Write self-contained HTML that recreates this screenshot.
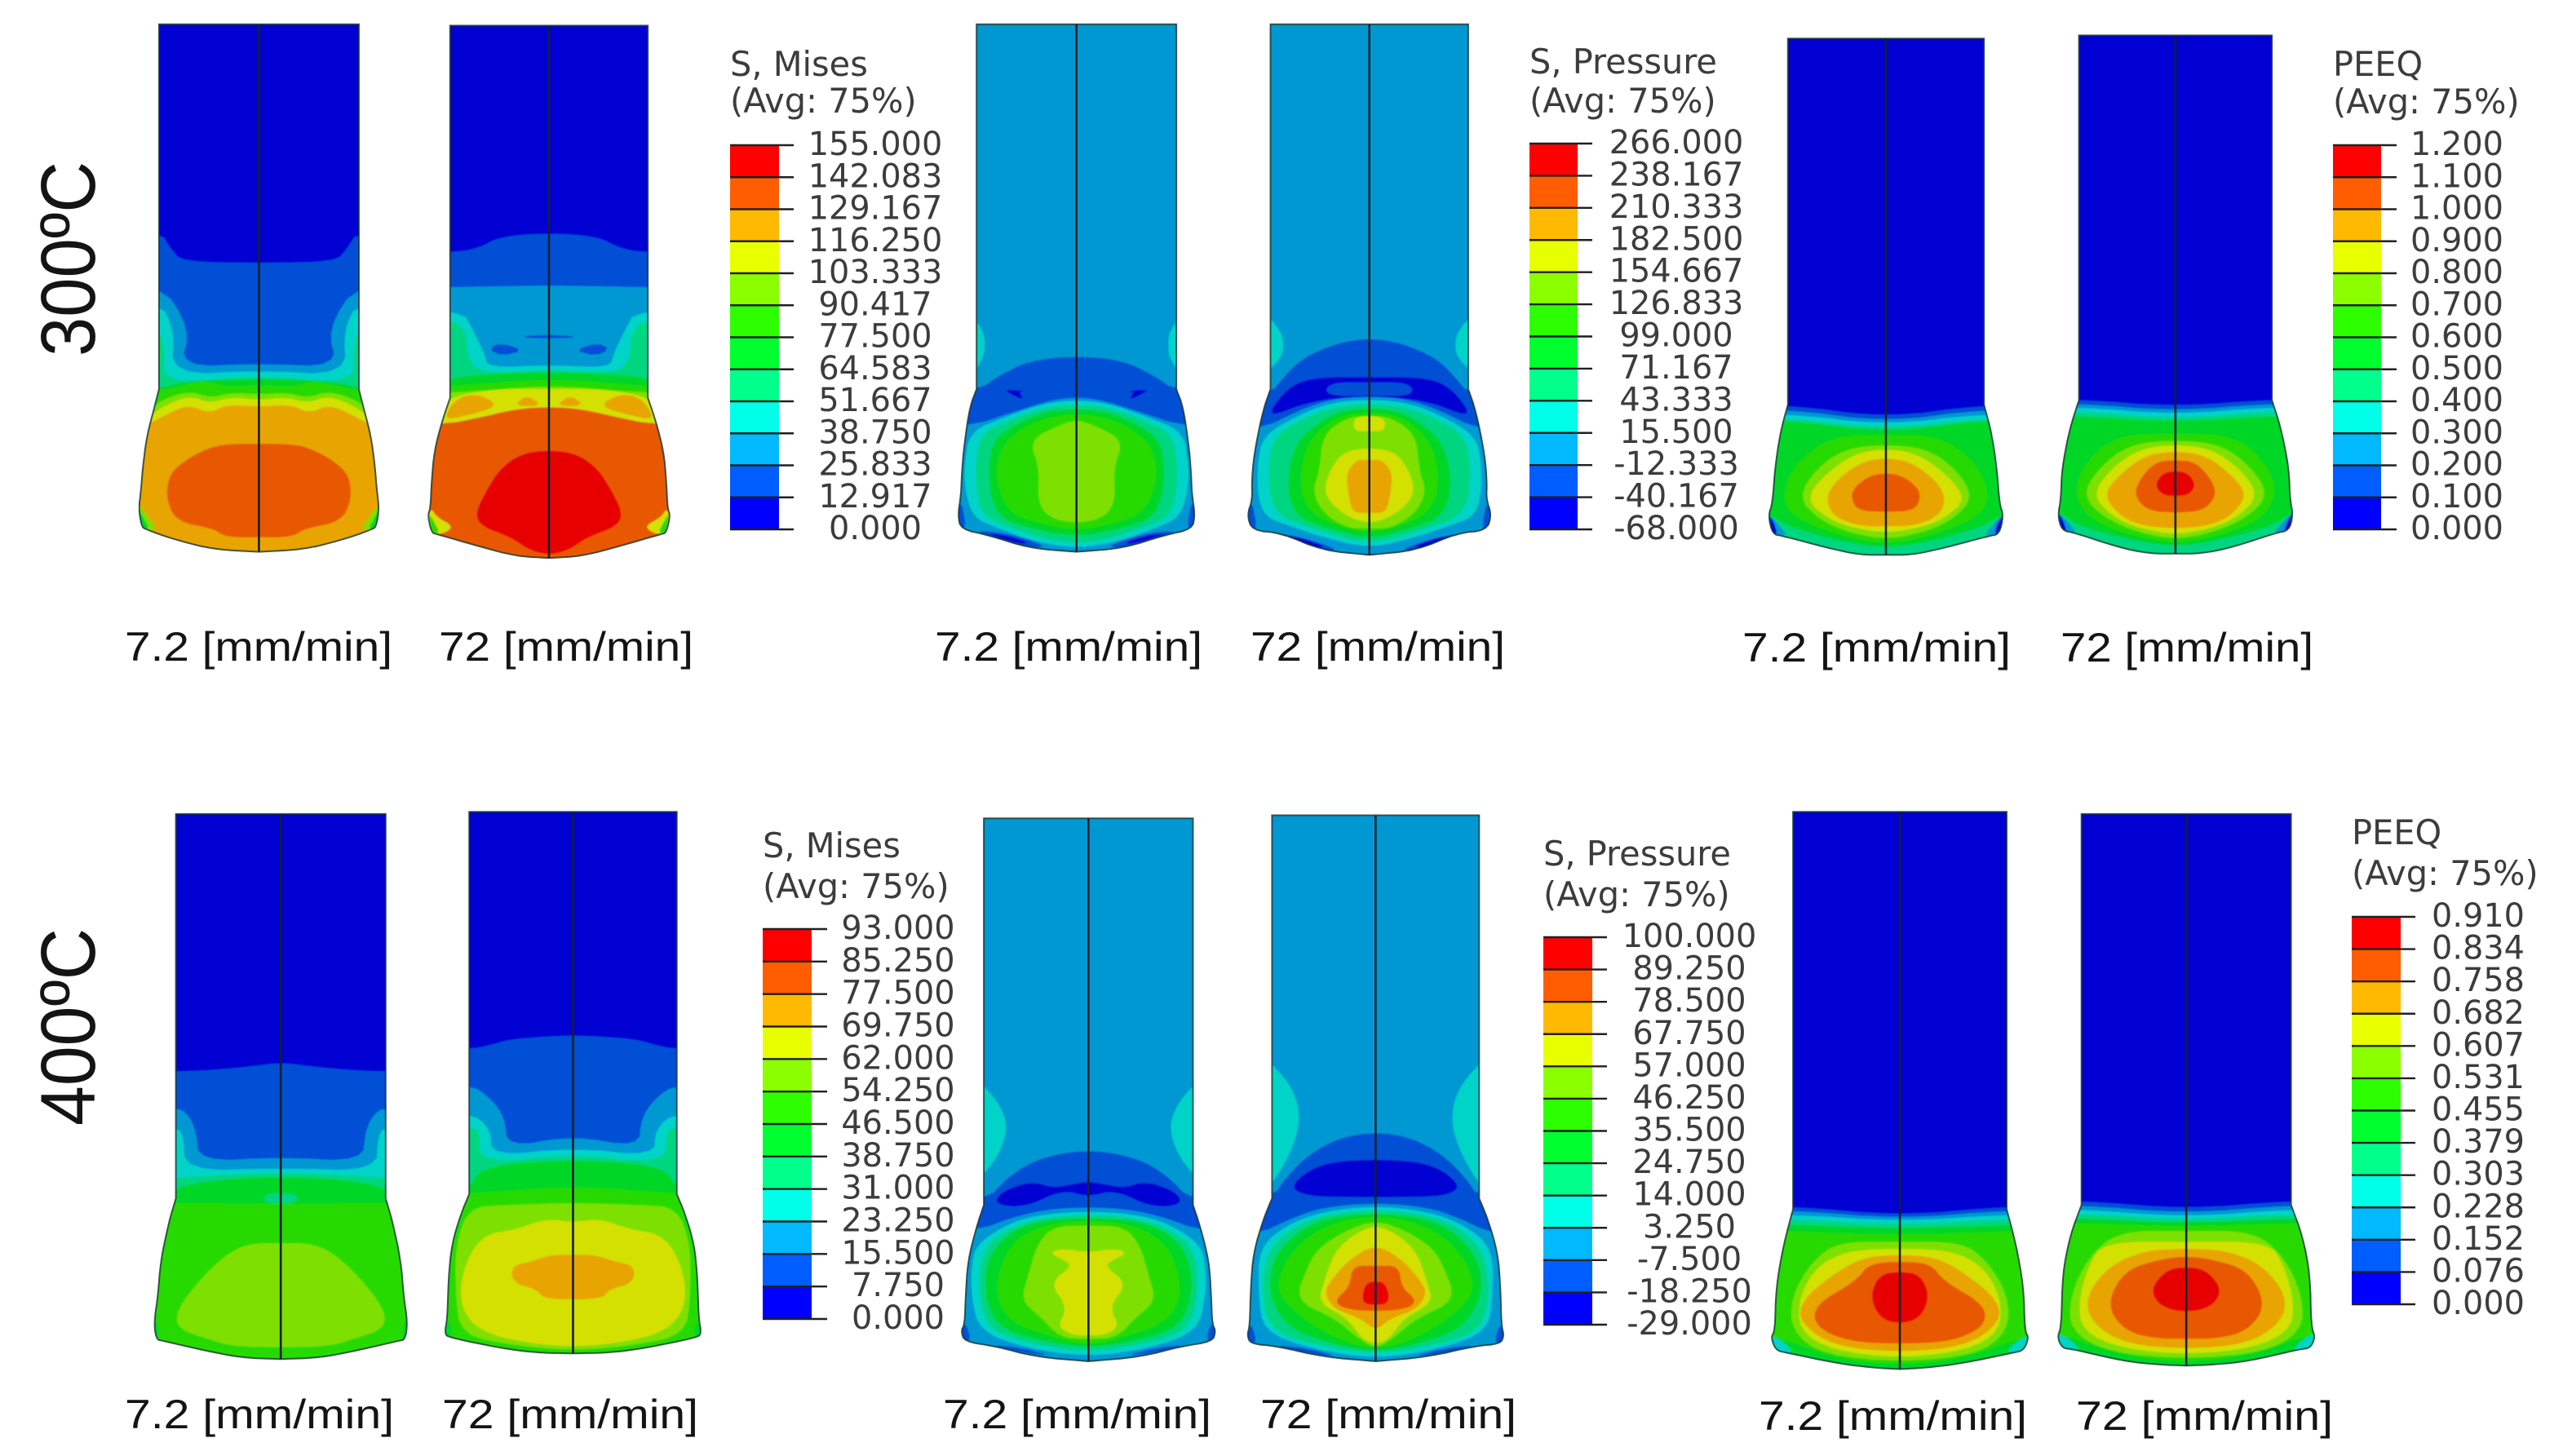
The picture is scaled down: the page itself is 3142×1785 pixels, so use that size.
<!DOCTYPE html>
<html lang="en">
<head>
<meta charset="utf-8">
<title>FE contour plots at 300 and 400 °C</title>
<style>
html,body{margin:0;padding:0;background:#fff;width:3142px;height:1785px;overflow:hidden}
svg{display:block;overflow:hidden}
.legend-text{font-family:"DejaVu Sans","Liberation Sans",sans-serif;fill:#3c3c3c}
.caption{font-family:"Liberation Sans",sans-serif;fill:#141414}
</style>
</head>
<body>
<svg id="figure" xmlns="http://www.w3.org/2000/svg" width="3142" height="1785" viewBox="0 0 3142 1785">
  <rect x="0" y="0" width="3142" height="1785" fill="#ffffff"/>
  <text class="caption" transform="translate(116,437) rotate(-90)" font-size="95" textLength="239" lengthAdjust="spacingAndGlyphs" fill="#000">300ºC</text>
  <text class="caption" transform="translate(116,1380) rotate(-90)" font-size="95" textLength="242" lengthAdjust="spacingAndGlyphs" fill="#000">400ºC</text>

  <text class="caption" x="153" y="810" font-size="50" textLength="328" lengthAdjust="spacingAndGlyphs">7.2 [mm/min]</text>
  <text class="caption" x="538" y="810" font-size="50" textLength="312" lengthAdjust="spacingAndGlyphs">72 [mm/min]</text>
  <text class="caption" x="1146" y="810" font-size="50" textLength="328" lengthAdjust="spacingAndGlyphs">7.2 [mm/min]</text>
  <text class="caption" x="1533" y="810" font-size="50" textLength="312" lengthAdjust="spacingAndGlyphs">72 [mm/min]</text>
  <text class="caption" x="2136" y="811" font-size="50" textLength="329" lengthAdjust="spacingAndGlyphs">7.2 [mm/min]</text>
  <text class="caption" x="2526" y="811" font-size="50" textLength="310" lengthAdjust="spacingAndGlyphs">72 [mm/min]</text>
  <text class="caption" x="153" y="1751" font-size="50" textLength="330" lengthAdjust="spacingAndGlyphs">7.2 [mm/min]</text>
  <text class="caption" x="542" y="1751" font-size="50" textLength="314" lengthAdjust="spacingAndGlyphs">72 [mm/min]</text>
  <text class="caption" x="1156" y="1751" font-size="50" textLength="329" lengthAdjust="spacingAndGlyphs">7.2 [mm/min]</text>
  <text class="caption" x="1545" y="1751" font-size="50" textLength="314" lengthAdjust="spacingAndGlyphs">72 [mm/min]</text>
  <text class="caption" x="2156" y="1753" font-size="50" textLength="329" lengthAdjust="spacingAndGlyphs">7.2 [mm/min]</text>
  <text class="caption" x="2545" y="1753" font-size="50" textLength="315" lengthAdjust="spacingAndGlyphs">72 [mm/min]</text>
</svg>
<script>
// ---------- legend values ----------
const misesTicks300 = ["155.000","142.083","129.167","116.250","103.333","90.417","77.500","64.583","51.667","38.750","25.833","12.917","0.000"];
const pressureTicks300 = ["266.000","238.167","210.333","182.500","154.667","126.833","99.000","71.167","43.333","15.500","-12.333","-40.167","-68.000"];
const peeqTicks300 = ["1.200","1.100","1.000","0.900","0.800","0.700","0.600","0.500","0.400","0.300","0.200","0.100","0.000"];
const misesTicks400 = ["93.000","85.250","77.500","69.750","62.000","54.250","46.500","38.750","31.000","23.250","15.500","7.750","0.000"];
const pressureTicks400 = ["100.000","89.250","78.500","67.750","57.000","46.250","35.500","24.750","14.000","3.250","-7.500","-18.250","-29.000"];
const peeqTicks400 = ["0.910","0.834","0.758","0.682","0.607","0.531","0.455","0.379","0.303","0.228","0.152","0.076","0.000"];

// Colour per contour level, lowest (0) to highest (11)
const legendLevelColors = ["#0000ff","#005dff","#00b9ff","#00ffe8","#00ff8b","#00ff2e","#2eff00","#8bff00","#e8ff00","#ffb900","#ff5d00","#ff0000"];
const fieldLevelColors = ["#0000d2","#0050d4","#0098d2","#00d4c8","#00d680","#00d628","#28da00","#7ee000","#d4e000","#e8a400","#e85800","#e60000"];

// ---------- contour geometry (half profiles mirrored about the specimen axis) ----------
// Each entry: [kind, level, half-profile]; b = everything below a curve, c = closed about axis, s = blob on both sides
const outlineMises300Slow = [[0,55],[183,55],[183,880],[190,915],[205,985],[212,1050],[216,1110],[220,1150],[215,1190],[208,1197],[150,1222],[80,1243],[0,1248]];
const contoursMises300Slow = [
 ["b",1,[[0,595],[140,592],[160,565],[183,520]]],
 ["b",2,[[0,822],[145,830],[125,745],[183,635]]],
 ["b",3,[[0,838],[160,848],[155,745],[183,680]]],
 ["b",4,[[0,848],[175,868],[172,790],[183,740]]],
 ["b",5,[[0,855],[150,865],[183,880]]],
 ["b",6,[[0,870],[60,875],[100,860],[140,872],[183,885]]],
 ["b",7,[[0,892],[50,888],[90,900],[125,885],[170,900],[200,925]]],
 ["b",8,[[0,905],[50,898],[90,912],[125,895],[170,915],[205,945]]],
 ["b",9,[[0,920],[60,915],[90,935],[130,915],[170,938],[212,965]]],
 ["c",10,[[0,1003],[70,1005],[105,1020],[140,1045],[165,1075],[170,1130],[150,1180],[85,1195],[60,1215],[0,1215]]],
 ["s",7,[[218,1140],[222,1170],[212,1198],[185,1198],[205,1165]]],
 ["s",5,[[220,1150],[215,1197],[200,1197],[212,1170]]]
];
const outlineMises300Fast = [[0,58],[181,58],[181,900],[195,950],[210,1020],[215,1090],[217,1150],[222,1165],[215,1205],[205,1208],[130,1235],[60,1258],[0,1262]];
const contoursMises300Fast = [
 ["b",1,[[0,527],[90,535],[130,562],[181,572]]],
 ["b",2,[[0,645],[181,650]]],
 ["s",1,[[111,790],[90,775],[46,792],[85,805]]],
 ["c",1,[[0,757],[45,760],[45,764],[0,765]]],
 ["b",3,[[0,825],[112,832],[118,800],[140,745],[160,700]]],
 ["b",4,[[0,835],[130,845],[150,800],[150,750],[181,720]]],
 ["b",5,[[0,840],[160,850],[181,860]]],
 ["b",6,[[0,855],[181,875]]],
 ["b",7,[[0,870],[181,890]]],
 ["b",8,[[0,880],[100,880],[170,895],[181,905]]],
 ["s",9,[[12,918],[40,893],[65,918]]],
 ["s",9,[[90,918],[130,890],[170,900],[195,950],[150,940]]],
 ["b",10,[[0,920],[60,925],[130,945],[190,960]]],
 ["c",11,[[0,1018],[50,1025],[90,1060],[115,1110],[135,1160],[125,1190],[70,1215],[35,1245],[0,1255]]],
 ["s",8,[[215,1150],[222,1165],[215,1210],[190,1205],[175,1190],[205,1170]]],
 ["s",6,[[220,1160],[215,1208],[200,1205],[210,1180]]]
];
const outlinePressure300Slow = [[0,55],[192,55],[192,880],[205,920],[215,1000],[220,1060],[222,1120],[228,1165],[222,1197],[170,1210],[90,1240],[0,1248]];
const contoursPressure300Slow = [
 ["s",3,[[215,715],[192,725],[178,755],[176,780],[178,805],[192,835],[215,845]]],
 ["b",1,[[0,805],[90,815],[150,850],[192,885]]],
 ["s",0,[[141,880],[125,892],[100,905],[112,885],[91,885]]],
 ["b",2,[[0,898],[50,905],[130,935],[206,965]]],
 ["c",3,[[0,905],[60,912],[130,940],[205,975],[215,1050],[215,1100],[200,1170],[150,1195],[80,1225],[0,1240]]],
 ["c",4,[[0,915],[60,920],[130,950],[190,985],[195,1100],[180,1170],[110,1200],[60,1220],[0,1228]]],
 ["c",5,[[0,925],[60,930],[120,960],[165,1000],[170,1100],[150,1170],[90,1195],[0,1215]]],
 ["c",6,[[0,935],[60,945],[115,975],[150,1020],[155,1090],[130,1160],[70,1185],[0,1200]]],
 ["c",7,[[0,950],[30,960],[91,995],[71,1060],[75,1130],[55,1170],[0,1185]]],
 ["s",1,[[195,1200],[140,1205],[80,1225],[60,1238],[100,1238],[170,1214]]],
 ["s",0,[[170,1206],[130,1212],[90,1228],[110,1230],[160,1212]]],
 ["s",1,[[222,1130],[230,1165],[222,1197],[212,1190]]]
];
const outlinePressure300Fast = [[0,55],[190,55],[190,880],[205,930],[222,1030],[226,1090],[225,1130],[235,1165],[225,1200],[170,1205],[90,1245],[0,1255]];
const contoursPressure300Fast = [
 ["s",3,[[215,710],[190,720],[168,755],[165,780],[168,805],[190,835],[215,845]]],
 ["b",1,[[0,765],[60,775],[130,810],[170,860],[190,890]]],
 ["c",0,[[0,853],[100,853],[150,870],[190,925],[185,940],[130,915],[70,900],[0,898]]],
 ["c",1,[[0,865],[78,865],[85,895],[0,895]]],
 ["b",2,[[0,896],[70,902],[130,925],[215,975]]],
 ["c",3,[[0,903],[70,910],[130,935],[205,985],[215,1050],[215,1120],[200,1170],[150,1190],[90,1215],[0,1240]]],
 ["c",4,[[0,912],[70,920],[125,945],[190,990],[195,1100],[180,1165],[100,1200],[0,1232]]],
 ["c",5,[[0,922],[60,930],[110,965],[145,1010],[160,1100],[140,1170],[80,1195],[0,1220]]],
 ["c",6,[[0,932],[55,940],[100,975],[125,1020],[135,1100],[115,1160],[60,1190],[0,1205]]],
 ["c",7,[[0,940],[45,945],[90,985],[95,1060],[110,1115],[85,1165],[40,1195],[0,1195]]],
 ["c",8,[[0,940],[30,945],[30,975],[0,975]]],
 ["c",8,[[0,1013],[45,1020],[70,1050],[91,1115],[50,1165],[0,1185]]],
 ["c",9,[[0,1040],[25,1040],[45,1070],[40,1120],[32,1160],[0,1160]]],
 ["s",1,[[195,1205],[140,1212],[85,1232],[60,1245],[100,1245],[170,1216]]],
 ["s",0,[[185,1206],[130,1216],[80,1238],[110,1238],[165,1216]]],
 ["s",1,[[226,1130],[236,1165],[226,1200],[216,1195]]]
];
const outlinePeeq300Slow = [[0,87],[190,87],[190,915],[205,980],[215,1060],[220,1140],[228,1165],[220,1208],[200,1212],[110,1240],[50,1255],[0,1255]];
const contoursPeeq300Slow = [
 ["b",1,[[0,945],[190,915]]],
 ["b",2,[[0,955],[190,925]]],
 ["b",3,[[0,962],[190,935]]],
 ["b",4,[[0,970],[190,945]]],
 ["b",5,[[0,978],[190,950]]],
 ["c",6,[[0,985],[100,985],[170,1040],[200,1110],[190,1160],[120,1200],[0,1235]]],
 ["c",7,[[0,1005],[80,1015],[135,1060],[170,1125],[130,1175],[70,1205],[0,1220]]],
 ["c",8,[[0,1015],[60,1025],[120,1075],[156,1130],[110,1175],[60,1195],[0,1205]]],
 ["c",9,[[0,1035],[50,1045],[100,1090],[117,1130],[100,1170],[50,1190],[0,1190]]],
 ["c",10,[[0,1070],[30,1075],[60,1100],[68,1125],[55,1155],[0,1158]]],
 ["b",4,[[0,1240],[100,1222],[190,1190],[230,1160]]],
 ["s",2,[[230,1160],[222,1208],[190,1212],[205,1190]]],
 ["s",0,[[228,1165],[220,1208],[210,1208],[218,1178]]]
];
const outlinePeeq300Fast = [[0,80],[187,80],[187,905],[205,970],[220,1060],[222,1130],[228,1165],[220,1200],[195,1205],[110,1238],[50,1252],[0,1252]];
const contoursPeeq300Fast = [
 ["b",1,[[0,920],[187,903]]],
 ["b",2,[[0,930],[187,912]]],
 ["b",3,[[0,938],[187,920]]],
 ["b",4,[[0,947],[187,930]]],
 ["b",5,[[0,955],[187,940]]],
 ["c",6,[[0,980],[120,985],[185,1060],[195,1130],[150,1190],[0,1235]]],
 ["c",7,[[0,995],[90,1005],[150,1060],[180,1120],[140,1170],[70,1205],[0,1220]]],
 ["c",8,[[0,1005],[70,1015],[125,1060],[162,1120],[120,1170],[70,1195],[0,1210]]],
 ["c",9,[[0,1020],[60,1030],[110,1075],[140,1120],[105,1170],[60,1190],[0,1195]]],
 ["c",10,[[0,1040],[40,1045],[70,1085],[80,1120],[55,1155],[0,1160]]],
 ["c",11,[[0,1065],[25,1070],[40,1097],[25,1120],[0,1122]]],
 ["b",4,[[0,1238],[100,1218],[190,1188],[230,1155]]],
 ["s",2,[[230,1155],[222,1204],[190,1206],[205,1185]]],
 ["s",0,[[228,1160],[220,1204],[210,1204],[218,1175]]]
];
const outlineMises400Slow = [[0,90],[192,90],[192,975],[205,1030],[220,1120],[225,1200],[232,1260],[228,1300],[215,1303],[140,1325],[70,1342],[0,1345]];
const contoursMises400Slow = [
 ["b",1,[[0,662],[60,672],[130,680],[192,683]]],
 ["b",2,[[0,880],[150,890],[155,820],[170,780],[192,765]]],
 ["b",3,[[0,905],[175,912],[178,830],[192,810]]],
 ["b",4,[[0,915],[180,925],[192,930]]],
 ["b",5,[[0,925],[100,930],[180,945],[192,960]]],
 ["c",4,[[0,962],[30,965],[30,985],[0,990]]],
 ["b",6,[[0,988],[192,985]]],
 ["c",7,[[0,1078],[50,1078],[90,1095],[140,1150],[190,1230],[190,1275],[130,1300],[90,1315],[0,1318]]],
 ["s",5,[[225,1255],[235,1260],[230,1303],[222,1300]]]
];
const outlineMises400Fast = [[0,85],[190,85],[190,965],[205,1010],[222,1080],[228,1160],[230,1250],[235,1285],[228,1295],[130,1320],[70,1330],[0,1332]];
const contoursMises400Fast = [
 ["b",1,[[0,600],[60,603],[120,610],[150,622],[190,632]]],
 ["b",2,[[0,830],[120,858],[125,790],[150,745],[190,710]]],
 ["b",3,[[0,858],[150,878],[150,815],[190,775]]],
 ["b",4,[[0,872],[170,895],[170,820],[190,810]]],
 ["b",5,[[0,885],[170,900],[190,960]]],
 ["b",6,[[0,945],[190,965]]],
 ["c",7,[[0,985],[120,990],[190,995],[215,1080],[215,1200],[205,1290],[100,1315],[0,1325]]],
 ["c",8,[[0,1030],[50,1022],[100,1045],[170,1060],[205,1150],[205,1230],[170,1280],[100,1305],[0,1318]]],
 ["c",9,[[0,1105],[40,1105],[75,1120],[113,1130],[110,1170],[65,1185],[55,1205],[0,1208]]],
 ["s",5,[[228,1255],[236,1285],[228,1296],[220,1280]]]
];
const outlinePressure400Slow = [[0,100],[201,100],[201,990],[215,1040],[232,1120],[236,1200],[238,1265],[245,1280],[238,1305],[180,1315],[100,1340],[0,1350]];
const contoursPressure400Slow = [
 ["s",3,[[230,690],[201,715],[170,760],[155,810],[170,870],[201,920],[230,940]]],
 ["b",1,[[0,862],[90,880],[150,920],[201,985]]],
 ["c",0,[[0,935],[40,945],[70,950],[110,935],[170,960],[180,990],[120,995],[50,955],[0,972]]],
 ["b",2,[[0,995],[80,1000],[150,1020],[215,1050]]],
 ["c",3,[[0,1005],[80,1010],[150,1030],[215,1080],[225,1130],[225,1200],[210,1280],[120,1320],[0,1340]]],
 ["c",4,[[0,1012],[80,1018],[150,1040],[205,1090],[212,1200],[190,1280],[110,1310],[0,1330]]],
 ["c",5,[[0,1020],[90,1025],[150,1050],[195,1110],[200,1200],[175,1270],[105,1300],[0,1320]]],
 ["c",6,[[0,1025],[70,1032],[130,1060],[165,1110],[180,1200],[150,1260],[80,1290],[0,1315]]],
 ["c",7,[[0,1037],[70,1040],[100,1085],[115,1150],[130,1210],[90,1250],[55,1295],[0,1300]]],
 ["c",8,[[0,1100],[50,1090],[75,1100],[50,1115],[30,1130],[75,1170],[40,1225],[60,1270],[30,1290],[0,1290]]],
 ["s",1,[[190,1312],[130,1318],[70,1338],[130,1330]]],
 ["s",1,[[236,1260],[246,1280],[238,1305],[226,1300]]]
];
const outlinePressure400Fast = [[0,93],[199,93],[199,975],[215,1020],[235,1100],[240,1180],[242,1270],[247,1290],[240,1310],[190,1315],[100,1340],[0,1350]];
const contoursPressure400Fast = [
 ["s",3,[[230,640],[199,665],[160,720],[145,780],[155,850],[199,945],[230,965]]],
 ["b",1,[[0,822],[70,835],[130,875],[175,930],[199,975]]],
 ["c",0,[[0,885],[80,890],[130,910],[165,950],[130,970],[50,972],[0,972]]],
 ["b",2,[[0,985],[100,995],[160,1020],[230,1060]]],
 ["c",3,[[0,992],[100,1005],[170,1035],[225,1090],[225,1200],[215,1280],[130,1320],[0,1345]]],
 ["c",4,[[0,1000],[100,1012],[165,1045],[210,1100],[220,1200],[200,1280],[120,1312],[0,1335]]],
 ["c",5,[[0,1008],[100,1020],[160,1060],[200,1120],[205,1200],[170,1270],[100,1305],[0,1330]]],
 ["c",6,[[0,1015],[80,1030],[140,1070],[180,1130],[190,1200],[120,1270],[50,1310],[0,1320]]],
 ["c",7,[[0,1025],[60,1050],[110,1090],[130,1130],[155,1210],[80,1250],[30,1300],[0,1320]]],
 ["c",8,[[0,1035],[45,1060],[80,1100],[100,1170],[110,1215],[55,1250],[25,1300],[0,1310]]],
 ["c",9,[[0,1080],[50,1115],[80,1155],[100,1190],[80,1230],[30,1250],[0,1280]]],
 ["c",10,[[0,1130],[45,1130],[50,1180],[80,1210],[60,1230],[0,1235]]],
 ["c",11,[[0,1165],[20,1170],[28,1215],[0,1222]]],
 ["s",1,[[200,1312],[130,1320],[70,1340],[130,1332]]],
 ["s",1,[[240,1260],[248,1290],[240,1310],[228,1305]]]
];
const outlinePeeq400Slow = [[0,85],[207,85],[207,1000],[225,1080],[240,1180],[242,1280],[250,1295],[240,1325],[220,1330],[120,1355],[50,1365],[0,1368]];
const contoursPeeq400Slow = [
 ["b",1,[[0,1015],[207,993]]],
 ["b",2,[[0,1022],[207,1002]]],
 ["b",3,[[0,1028],[207,1012]]],
 ["b",4,[[0,1036],[207,1022]]],
 ["b",5,[[0,1045],[207,1035]]],
 ["b",6,[[0,1060],[207,1050]]],
 ["c",7,[[0,1075],[120,1075],[170,1120],[210,1200],[210,1280],[150,1335],[0,1352]]],
 ["c",8,[[0,1090],[100,1095],[160,1130],[195,1200],[195,1280],[130,1325],[0,1343]]],
 ["c",9,[[0,1105],[70,1110],[130,1150],[190,1210],[195,1260],[130,1315],[0,1330]]],
 ["c",10,[[0,1120],[60,1125],[85,1165],[165,1220],[165,1270],[100,1305],[0,1310]]],
 ["c",11,[[0,1143],[40,1150],[58,1200],[40,1250],[0,1265]]],
 ["b",5,[[0,1360],[130,1342],[245,1290]]],
 ["s",3,[[250,1290],[242,1326],[205,1332],[225,1305]]]
];
const outlinePeeq400Fast = [[0,90],[203,90],[203,990],[225,1060],[240,1150],[242,1270],[250,1295],[240,1320],[220,1322],[120,1350],[50,1358],[0,1360]];
const contoursPeeq400Fast = [
 ["b",1,[[0,1000],[203,980]]],
 ["b",2,[[0,1010],[203,990]]],
 ["b",3,[[0,1018],[203,1000]]],
 ["b",4,[[0,1025],[203,1010]]],
 ["b",5,[[0,1032],[203,1020]]],
 ["b",6,[[0,1040],[203,1032]]],
 ["c",7,[[0,1050],[130,1050],[190,1110],[225,1200],[225,1280],[150,1330],[0,1345]]],
 ["c",8,[[0,1075],[160,1075],[190,1130],[210,1220],[200,1280],[130,1320],[0,1335]]],
 ["c",9,[[0,1090],[80,1095],[150,1130],[195,1200],[185,1260],[120,1310],[0,1322]]],
 ["c",10,[[0,1108],[50,1115],[120,1140],[155,1220],[120,1280],[60,1298],[0,1298]]],
 ["c",11,[[0,1132],[40,1140],[70,1185],[50,1225],[0,1238]]],
 ["b",5,[[0,1353],[130,1335],[245,1285]]],
 ["s",3,[[250,1285],[242,1320],[205,1326],[225,1300]]]
];

// ---------- drawing ----------
const svg = document.getElementById('figure');
const NS = 'http://www.w3.org/2000/svg';
const defs = document.createElementNS(NS, 'defs');


svg.appendChild(defs);
const soft = document.createElementNS(NS, 'filter');
soft.setAttribute('id', 'soft');
const softBlur = document.createElementNS(NS, 'feGaussianBlur');
softBlur.setAttribute('stdDeviation', '0.8');
soft.appendChild(softBlur);
defs.appendChild(soft);

// Sampling frames map traced units to page pixels
function frame(x0, y0, w, h) { return { x0: x0, y0: y0, sx: 1568 / w, sy: 1568 / h }; }
function yPage(f, v) { return f.y0 + v / f.sy; }
function xPage(f, cx, d) { return f.x0 + (cx + d) / f.sx; }

// Mirror a half profile; axis points are not duplicated so the curve stays smooth across the axis
function mirrored(pts) {
  const left = pts.slice().reverse().filter(function (p) { return p[0] !== 0; }).map(function (p) { return [-p[0], p[1]]; });
  return pts.concat(left);
}
// Corner cutting of a closed ring
function rounded(ring, passes) {
  let out = ring;
  for (let k = 0; k < passes; k++) {
    const next = [];
    for (let i = 0; i < out.length; i++) {
      const a = out[i], b = out[(i + 1) % out.length];
      next.push([a[0] * 0.75 + b[0] * 0.25, a[1] * 0.75 + b[1] * 0.25]);
      next.push([a[0] * 0.25 + b[0] * 0.75, a[1] * 0.25 + b[1] * 0.75]);
    }
    out = next;
  }
  return out;
}
// Corner cutting of an open run with fixed ends
function roundedRun(run, passes) {
  let out = run;
  for (let k = 0; k < passes; k++) {
    const next = [out[0]];
    for (let i = 0; i < out.length - 1; i++) {
      const a = out[i], b = out[i + 1];
      next.push([a[0] * 0.75 + b[0] * 0.25, a[1] * 0.75 + b[1] * 0.25]);
      next.push([a[0] * 0.25 + b[0] * 0.75, a[1] * 0.25 + b[1] * 0.75]);
    }
    next.push(out[out.length - 1]);
    out = next;
  }
  return out;
}
function silhouette(outline) {
  const lower = roundedRun(outline.slice(2), 2);
  return mirrored(outline.slice(0, 2).concat(lower));
}
function toPoints(f, cx, pts) {
  return pts.map(function (p) { return xPage(f, cx, p[0]).toFixed(1) + ',' + yPage(f, p[1]).toFixed(1); }).join(' ');
}
function regionPolygons(kind, pts) {
  if (kind === 'b') {
    const lastY = pts[pts.length - 1][1];
    return [rounded(mirrored(pts.concat([[400, lastY], [400, 1450], [0, 1450]])), 2)];
  }
  if (kind === 'c') return [rounded(mirrored(pts), 2)];
  const passes = pts.length > 4 ? 2 : 1;
  return [rounded(pts, passes), rounded(pts.map(function (p) { return [-p[0], p[1]]; }), passes)];
}

let clipIndex = 0;
function drawSpecimen(name, f, cx, baseLevel, outline, contours) {
  clipIndex += 1;
  const clipId = 'specimen-clip-' + clipIndex;
  const shapePts = toPoints(f, cx, silhouette(outline));
  const clip = document.createElementNS(NS, 'clipPath');
  clip.setAttribute('id', clipId);
  const clipShape = document.createElementNS(NS, 'polygon');
  clipShape.setAttribute('points', shapePts);
  clip.appendChild(clipShape);
  defs.appendChild(clip);

  const group = document.createElementNS(NS, 'g');
  
  
  svg.appendChild(group);

  const clipped = document.createElementNS(NS, 'g');
  clipped.setAttribute('clip-path', 'url(#' + clipId + ')');
  
  
  group.appendChild(clipped);

  const inner = document.createElementNS(NS, 'g');
  inner.setAttribute('filter', 'url(#soft)');
  
  
  clipped.appendChild(inner);

  const base = document.createElementNS(NS, 'polygon');
  base.setAttribute('points', toPoints(f, cx, mirrored([[0, outline[0][1] - 10], [300, outline[0][1] - 10], [300, 1450], [0, 1450]])));
  base.setAttribute('fill', fieldLevelColors[baseLevel]);
  
  
  inner.appendChild(base);

  contours.forEach(function (entry) {
    regionPolygons(entry[0], entry[2]).forEach(function (poly) {
      const shape = document.createElementNS(NS, 'polygon');
      shape.setAttribute('points', toPoints(f, cx, poly));
      shape.setAttribute('fill', fieldLevelColors[entry[1]]);
      
      
      inner.appendChild(shape);
    });
  });

  const edge = document.createElementNS(NS, 'polygon');
  edge.setAttribute('points', shapePts);
  edge.setAttribute('fill', 'none');
  edge.setAttribute('stroke', '#15352f');
  edge.setAttribute('stroke-opacity', '0.8');
  edge.setAttribute('stroke-width', '2');
  
  
  group.appendChild(edge);

  const axis = document.createElementNS(NS, 'line');
  const px = xPage(f, cx, 0);
  axis.setAttribute('x1', px);
  axis.setAttribute('x2', px);
  axis.setAttribute('y1', yPage(f, outline[0][1]));
  axis.setAttribute('y2', yPage(f, outline[outline.length - 1][1]));
  axis.setAttribute('stroke', '#14202e');
  axis.setAttribute('stroke-width', '2.6');
  
  
  group.appendChild(axis);
}

function drawLegend(name, title, ticks, barLeft, barRight, tickEnd, top, bottom, labelCenter, title1Y, title2Y) {
  const group = document.createElementNS(NS, 'g');
  
  
  svg.appendChild(group);
  const n = ticks.length;
  function tickY(i) { return top + i * (bottom - top) / (n - 1); }

  [[title, title1Y], ['(Avg: 75%)', title2Y]].forEach(function (t) {
    const text = document.createElementNS(NS, 'text');
    text.setAttribute('class', 'legend-text');
    text.setAttribute('x', barLeft);
    text.setAttribute('y', t[1]);
    text.setAttribute('font-size', '41.5');
    text.textContent = t[0];
    
    
    group.appendChild(text);
  });

  for (let i = 0; i < n - 1; i++) {
    const band = document.createElementNS(NS, 'rect');
    band.setAttribute('x', barLeft);
    band.setAttribute('y', tickY(i));
    band.setAttribute('width', barRight - barLeft);
    band.setAttribute('height', tickY(i + 1) - tickY(i));
    band.setAttribute('fill', legendLevelColors[n - 2 - i]);
    
    
    group.appendChild(band);
  }
  for (let i = 0; i < n; i++) {
    const tick = document.createElementNS(NS, 'line');
    tick.setAttribute('x1', barLeft);
    tick.setAttribute('x2', tickEnd);
    tick.setAttribute('y1', tickY(i));
    tick.setAttribute('y2', tickY(i));
    tick.setAttribute('stroke', '#202020');
    tick.setAttribute('stroke-width', '2.4');
    
    
    group.appendChild(tick);

    const label = document.createElementNS(NS, 'text');
    label.setAttribute('class', 'legend-text');
    label.setAttribute('x', labelCenter);
    label.setAttribute('y', tickY(i) + 12);
    label.setAttribute('font-size', '39.8');
    label.setAttribute('text-anchor', 'middle');
    label.textContent = ticks[i];
    
    
    group.appendChild(label);
  }
}

const f1 = frame(150, 0, 1050, 850);
const f2 = frame(1150, 0, 1000, 850);
const f3 = frame(2150, 0, 992, 850);
const f4 = frame(150, 950, 1050, 835);
const f5 = frame(1150, 950, 1000, 835);
const f6 = frame(2150, 950, 992, 835);

drawSpecimen('specimen-mises-300c-7-2', f1, 250, 0, outlineMises300Slow, contoursMises300Slow);
drawSpecimen('specimen-mises-300c-72', f1, 781, 0, outlineMises300Fast, contoursMises300Fast);
drawSpecimen('specimen-pressure-300c-7-2', f2, 266, 2, outlinePressure300Slow, contoursPressure300Slow);
drawSpecimen('specimen-pressure-300c-72', f2, 829, 2, outlinePressure300Fast, contoursPressure300Fast);
drawSpecimen('specimen-peeq-300c-7-2', f3, 256, 0, outlinePeeq300Slow, contoursPeeq300Slow);
drawSpecimen('specimen-peeq-300c-72', f3, 817, 0, outlinePeeq300Fast, contoursPeeq300Fast);
drawSpecimen('specimen-mises-400c-7-2', f4, 290, 0, outlineMises400Slow, contoursMises400Slow);
drawSpecimen('specimen-mises-400c-72', f4, 825, 0, outlineMises400Fast, contoursMises400Fast);
drawSpecimen('specimen-pressure-400c-7-2', f5, 289, 2, outlinePressure400Slow, contoursPressure400Slow);
drawSpecimen('specimen-pressure-400c-72', f5, 841, 2, outlinePressure400Fast, contoursPressure400Fast);
drawSpecimen('specimen-peeq-400c-7-2', f6, 283, 0, outlinePeeq400Slow, contoursPeeq400Slow);
drawSpecimen('specimen-peeq-400c-72', f6, 838, 0, outlinePeeq400Fast, contoursPeeq400Fast);

drawLegend('legend-mises-300c', 'S, Mises', misesTicks300, 895, 955, 973, 178, 649, 1073, 93, 138);
drawLegend('legend-pressure-300c', 'S, Pressure', pressureTicks300, 1875, 1934, 1952, 176, 649, 2055, 90, 138);
drawLegend('legend-peeq-300c', 'PEEQ', peeqTicks300, 2860, 2919, 2938, 178, 649, 3012, 93, 139);
drawLegend('legend-mises-400c', 'S, Mises', misesTicks400, 935, 995, 1014, 1139, 1617, 1101, 1051, 1101);
drawLegend('legend-pressure-400c', 'S, Pressure', pressureTicks400, 1892, 1952, 1970, 1149, 1624, 2071, 1061, 1111);
drawLegend('legend-peeq-400c', 'PEEQ', peeqTicks400, 2883, 2943, 2961, 1124, 1599, 3038, 1035, 1085);
</script>
</body>
</html>
